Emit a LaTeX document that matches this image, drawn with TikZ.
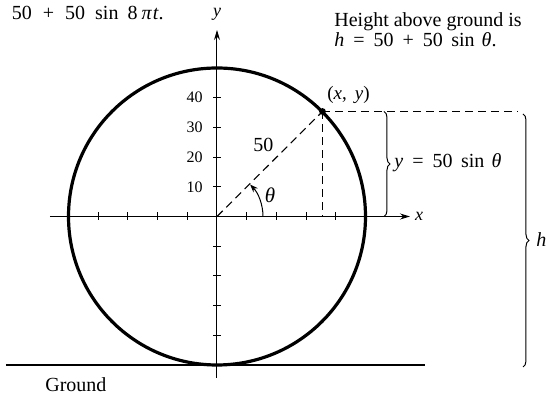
\documentclass[tikz,border=0pt]{standalone}
\usepackage{fontspec}
\setmainfont{Liberation Serif}
\usetikzlibrary{arrows.meta,decorations.pathreplacing}
\begin{document}
\begin{tikzpicture}[x=0.5pt,y=-0.5pt,
  axis/.style={line width=0.5pt},
  tickln/.style={line width=0.5pt},
  dsh/.style={dash pattern=on 4pt off 2.5pt, line width=0.55pt},
  txt/.style={inner sep=0pt, font=\fontsize{10}{12}\selectfont},
  ticklab/.style={inner sep=0pt, font=\fontsize{8}{10}\selectfont, anchor=east},
  brc/.style={decorate, decoration={brace, amplitude=3pt}, line width=0.5pt},
  tip/.style={-{Stealth[length=5pt,width=3pt]}}]
\useasboundingbox (0,0) rectangle (548,394);
\coordinate (O) at (217,216.5);
\coordinate (P) at (322.5,111.5);
\coordinate (Pfoot) at (322.5,216.5);
\coordinate (Pend) at (518,111.5);
\coordinate (xl) at (50,216.5);
\coordinate (xr) at (410,216.5);
\coordinate (yb) at (217,378);
\coordinate (yt) at (217,30);
\coordinate (gl) at (6,365);
\coordinate (gr) at (425,365);
% ground
\draw[line width=0.7pt] (gl) -- (gr);
% axes
\draw[axis,tip] (xl) -- (xr);
\draw[axis,tip] (yb) -- (yt);
\foreach \i in {-4,-3,-2,-1,1,2,3,4}{
  \draw[tickln] ([xshift=\i*14.85pt,yshift=2pt]O) -- ([xshift=\i*14.85pt,yshift=-2pt]O);
  \draw[tickln] ([yshift=\i*14.85pt,xshift=2pt]O) -- ([yshift=\i*14.85pt,xshift=-2pt]O);
}
\foreach \v/\k in {10/1,20/2,30/3,40/4}{
  \node[ticklab] (t\v) at ([yshift=\k*14.85pt,xshift=-7pt]O) {\v};
}
% circle
\draw[line width=1.6pt] (O) circle[radius=74.25pt];
% radius and projections
\draw[dsh] (O) -- (P);
\draw[dsh] (P) -- (Pfoot);
\draw[dsh] (P) -- (Pend);
\fill (P) circle[radius=1.7pt];
% angle
\draw[line width=0.5pt,-{Stealth[length=4pt,width=3pt]}] ([xshift=23pt]O) arc[start angle=0,end angle=44,radius=23pt];
% braces
\coordinate (b1t) at (384,111.5);
\coordinate (b1b) at (384,216.5);
\draw[brc] (b1t) -- (b1b);
\coordinate (b2t) at (523,114);
\coordinate (b2b) at (523,367);
\draw[brc] (b2t) -- (b2b);
% labels
\node[txt,anchor=base west] (eq1) at (11.5,19.3) {50\hspace{5.5pt}+\hspace{5.5pt}50\hspace{5pt}sin\hspace{4.5pt}8\hspace{2pt}\textit{π}\hspace{0.5pt}\textit{t}.};
\node[txt,anchor=base west] (hh1) at (334,26.7) {Height above ground is};
\node[txt,anchor=base west] (hh2) at (334,47) {\textit{h}\hspace{4.5pt}=\hspace{4.5pt}50\hspace{4.5pt}+\hspace{4.5pt}50\hspace{4.2pt}sin\hspace{3.5pt}\textit{θ}.};
\node[txt,anchor=base west,font=\fontsize{9.5}{11}\selectfont] (pl) at (327,100) {(\textit{x},\hspace{4pt}\textit{y})};
\node[txt,font=\fontsize{9}{11}\selectfont\itshape] (yl) at (217,14) {y};
\node[txt,font=\fontsize{9}{11}\selectfont\itshape] (xlab) at (419,216) {x};
\node[txt] (r50) at (263.5,145) {50};
\node[txt,font=\fontsize{10.5}{12}\selectfont\itshape] (th) at (270,195) {θ};
\node[txt,anchor=base west] (yeq) at (394,167.5) {\textit{y}\hspace{4.5pt}=\hspace{4.5pt}50\hspace{4.3pt}sin\hspace{3.5pt}\textit{θ}};
\node[txt,anchor=west,font=\fontsize{10}{12}\selectfont\itshape] (hl) at (536,240) {h};
\node[txt,anchor=base west] (gd) at (45,391.5) {Ground};
\end{tikzpicture}
\end{document}
